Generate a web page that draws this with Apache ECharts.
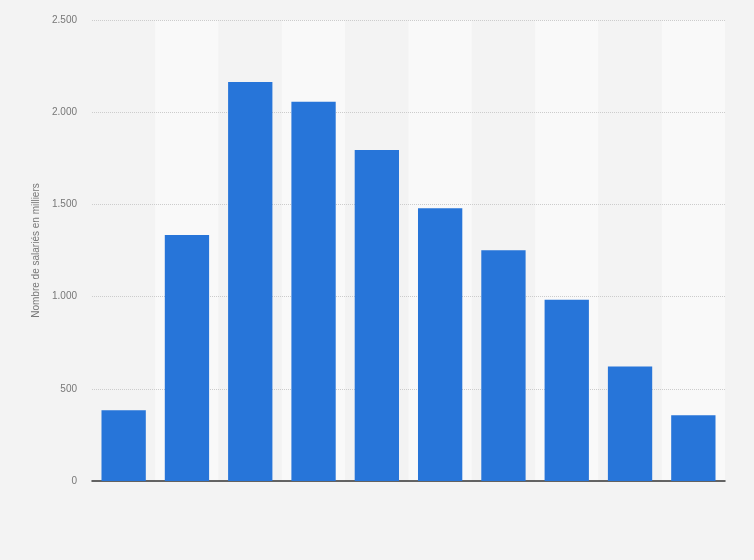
<!DOCTYPE html>
<html><head><meta charset="utf-8">
<script src="https://cdn.jsdelivr.net/npm/echarts@6/dist/echarts.min.js"></script>
<style>html,body{margin:0;padding:0;background:#f3f3f3;}#c{width:754px;height:560px;}</style>
</head><body><div id="c"></div>
<script>
const categories = ['1','2','3','4','5','6','7','8','9','10'];
const values = [383, 1334, 2164, 2056, 1795, 1479, 1251, 983, 621, 357];
const yTicks = { min: 0, max: 2500, interval: 500 };
const yName = 'Nombre de salariés en milliers';

const chart = echarts.init(document.getElementById('c'));
chart.setOption({
  backgroundColor: '#f3f3f3',
  animation: false,
  grid: { left: 92, right: 29, top: 20, bottom: 79 },
  xAxis: {
    type: 'category', data: categories, z: 0,
    axisLine: { lineStyle: { color: '#333', width: 1.5 } },
    axisTick: { show: false }, axisLabel: { show: false },
    splitArea: { show: true, areaStyle: { color: ['#f3f3f3', '#f9f9f9'] } }
  },
  yAxis: {
    type: 'value', min: yTicks.min, max: yTicks.max, interval: yTicks.interval, z: 1,
    name: yName, nameLocation: 'middle', nameGap: 40,
    nameTextStyle: { color: '#777', fontSize: 10, fontFamily: 'Arial, Liberation Sans' },
    axisLine: { show: false }, axisTick: { show: false },
    axisLabel: { color: '#777', fontSize: 10, margin: 15, fontFamily: 'Arial, Liberation Sans',
      formatter: v => v.toLocaleString('de-DE') },
    splitLine: { lineStyle: { color: ['rgba(0,0,0,0)', '#cccccc', '#cccccc', '#cccccc', '#cccccc', '#cccccc'], type: [1, 1] } }
  },
  series: [{
    type: 'bar', data: values, barCategoryGap: '30%', z: 2,
    itemStyle: { color: '#2775d9' }
  }]
});
</script></body></html>
